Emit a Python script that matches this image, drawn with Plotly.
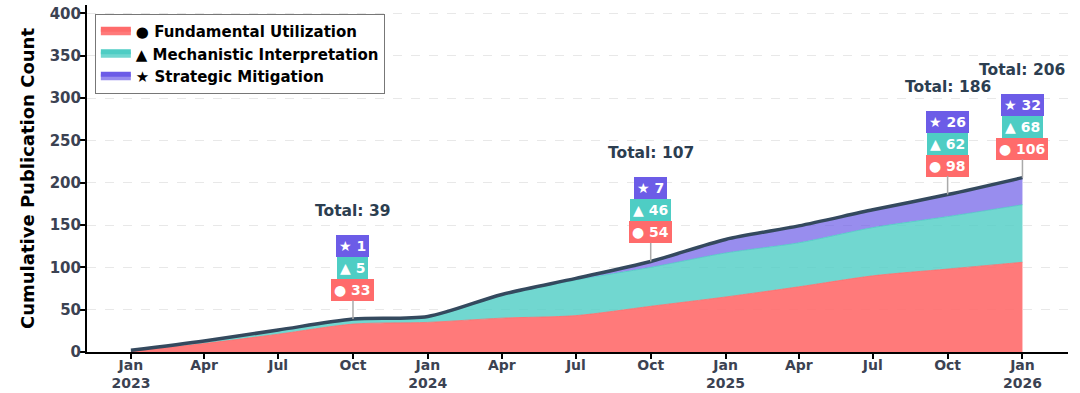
import plotly.graph_objects as go

# ---- data ----
dates = ["2023-01-01", "2023-04-01", "2023-07-01", "2023-10-01",
         "2024-01-01", "2024-04-01", "2024-07-01", "2024-10-01",
         "2025-01-01", "2025-04-01", "2025-07-01", "2025-10-01",
         "2026-01-01"]
fundamental = [1, 10, 21, 33, 35, 40, 43, 54, 65, 77, 90, 98, 106]
mechanistic = [1, 3, 5, 5, 6, 27, 42, 46, 52, 52, 57, 62, 68]
strategic = [0, 0, 0, 1, 1, 1, 2, 7, 16, 20, 21, 26, 32]
series_names = ["Fundamental Utilization", "Mechanistic Interpretation", "Strategic Mitigation"]
series_symbols = ["●", "▲", "★"]
label_indices = [3, 7, 11, 12]

tick_vals = ["2023-01-01", "2023-04-01", "2023-07-01", "2023-10-01",
             "2024-01-01", "2024-04-01", "2024-07-01", "2024-10-01",
             "2025-01-01", "2025-04-01", "2025-07-01", "2025-10-01",
             "2026-01-01"]
tick_text = ["Jan<br>2023", "Apr", "Jul", "Oct", "Jan<br>2024", "Apr", "Jul", "Oct",
             "Jan<br>2025", "Apr", "Jul", "Oct", "Jan<br>2026"]
y_ticks = [0, 50, 100, 150, 200, 250, 300, 350, 400]

totals = [a + b + c for a, b, c in zip(fundamental, mechanistic, strategic)]

# ---- styles ----
FONT = "DejaVu Sans"
fill_colors = ["rgba(255,107,107,0.9)", "rgba(78,205,196,0.8)", "rgba(108,92,231,0.7)"]
line_colors = ["#FF6B6B", "#4ECDC4", "#6C5CE7"]
box_colors = ["#FF6B6B", "#4ECDC4", "#6C5CE7"]
TOTAL_COLOR = "#34495e"
TICK_COLOR = "#3b4252"

fig = go.Figure()
for name, sym, vals, fc, lc in zip(series_names, series_symbols,
                                   [fundamental, mechanistic, strategic],
                                   fill_colors, line_colors):
    fig.add_trace(go.Scatter(
        x=dates, y=vals, name=f"<b>{sym} {name}</b>", stackgroup="one",
        mode="lines", line=dict(width=0.8, color=lc, shape="spline", smoothing=0.8),
        fillcolor=fc, hoverinfo="skip"))

fig.add_trace(go.Scatter(
    x=dates, y=totals, mode="lines", showlegend=False,
    line=dict(width=3.5, color=TOTAL_COLOR, shape="spline", smoothing=0.8)))

annotations = []
for i in label_indices:
    x = dates[i]
    y = totals[i]
    vals = [fundamental[i], mechanistic[i], strategic[i]]
    annotations.append(dict(
        x=x, y=y, xref="x", yref="y", text=f"<b>{series_symbols[0]} {vals[0]}</b>",
        showarrow=True, ax=0, ay=-29, arrowhead=0, arrowwidth=1.5, arrowcolor="#aaaaaa",
        font=dict(family=FONT, size=14, color="white"),
        bgcolor=box_colors[0], bordercolor=box_colors[0], borderpad=2, borderwidth=1))
    for k, shift in [(1, 51), (2, 73)]:
        annotations.append(dict(
            x=x, y=y, xref="x", yref="y", text=f"<b>{series_symbols[k]} {vals[k]}</b>",
            showarrow=False, yshift=shift,
            font=dict(family=FONT, size=14, color="white"),
            bgcolor=box_colors[k], bordercolor=box_colors[k], borderpad=2, borderwidth=1))
    annotations.append(dict(
        x=x, y=y, xref="x", yref="y", text=f"<b>Total: {totals[i]}</b>",
        showarrow=False, yshift=108,
        font=dict(family=FONT, size=15.5, color="#2c3e50")))

fig.update_layout(
    width=1080, height=393,
    margin=dict(l=87, r=12, t=5, b=41, autoexpand=False),
    paper_bgcolor="white", plot_bgcolor="white",
    font=dict(family=FONT, color=TICK_COLOR),
    annotations=annotations,
    showlegend=True,
    legend=dict(
        x=0.008, y=0.974, xanchor="left", yanchor="top",
        bgcolor="white", bordercolor="#777777", borderwidth=1,
        traceorder="normal",
        font=dict(family=FONT, size=15, color="black"),
        itemsizing="constant", tracegroupgap=0),
)

fig.update_xaxes(
    type="date", range=["2022-11-08", "2026-02-26"], automargin=False,
    tickmode="array", tickvals=tick_vals, ticktext=[f"<b>{t}</b>" for t in tick_text],
    tickfont=dict(family=FONT, size=14, color=TICK_COLOR),
    ticklabelstandoff=-6,
    showline=True, linecolor="black", linewidth=2,
    ticks="outside", tickcolor="black", ticklen=5, tickwidth=1.5,
    showgrid=False, zeroline=False)

fig.update_yaxes(
    range=[0, 410], automargin=False, tickmode="array", tickvals=y_ticks,
    ticktext=[f"<b>{v}</b>" for v in y_ticks],
    tickfont=dict(family=FONT, size=15, color=TICK_COLOR),
    ticklabelstandoff=-4,
    showline=True, linecolor="black", linewidth=2,
    ticks="outside", tickcolor="black", ticklen=5, tickwidth=1.5,
    showgrid=True, gridcolor="#e8e8e8", griddash="dash", gridwidth=1,
    zeroline=False,
    title=dict(text="<b>Cumulative Publication Count</b>",
               font=dict(family=FONT, size=18, color="black"), standoff=10))

fig.write_html("out.html", config={"displayModeBar": False},
               post_script="document.body.style.margin='0';")
